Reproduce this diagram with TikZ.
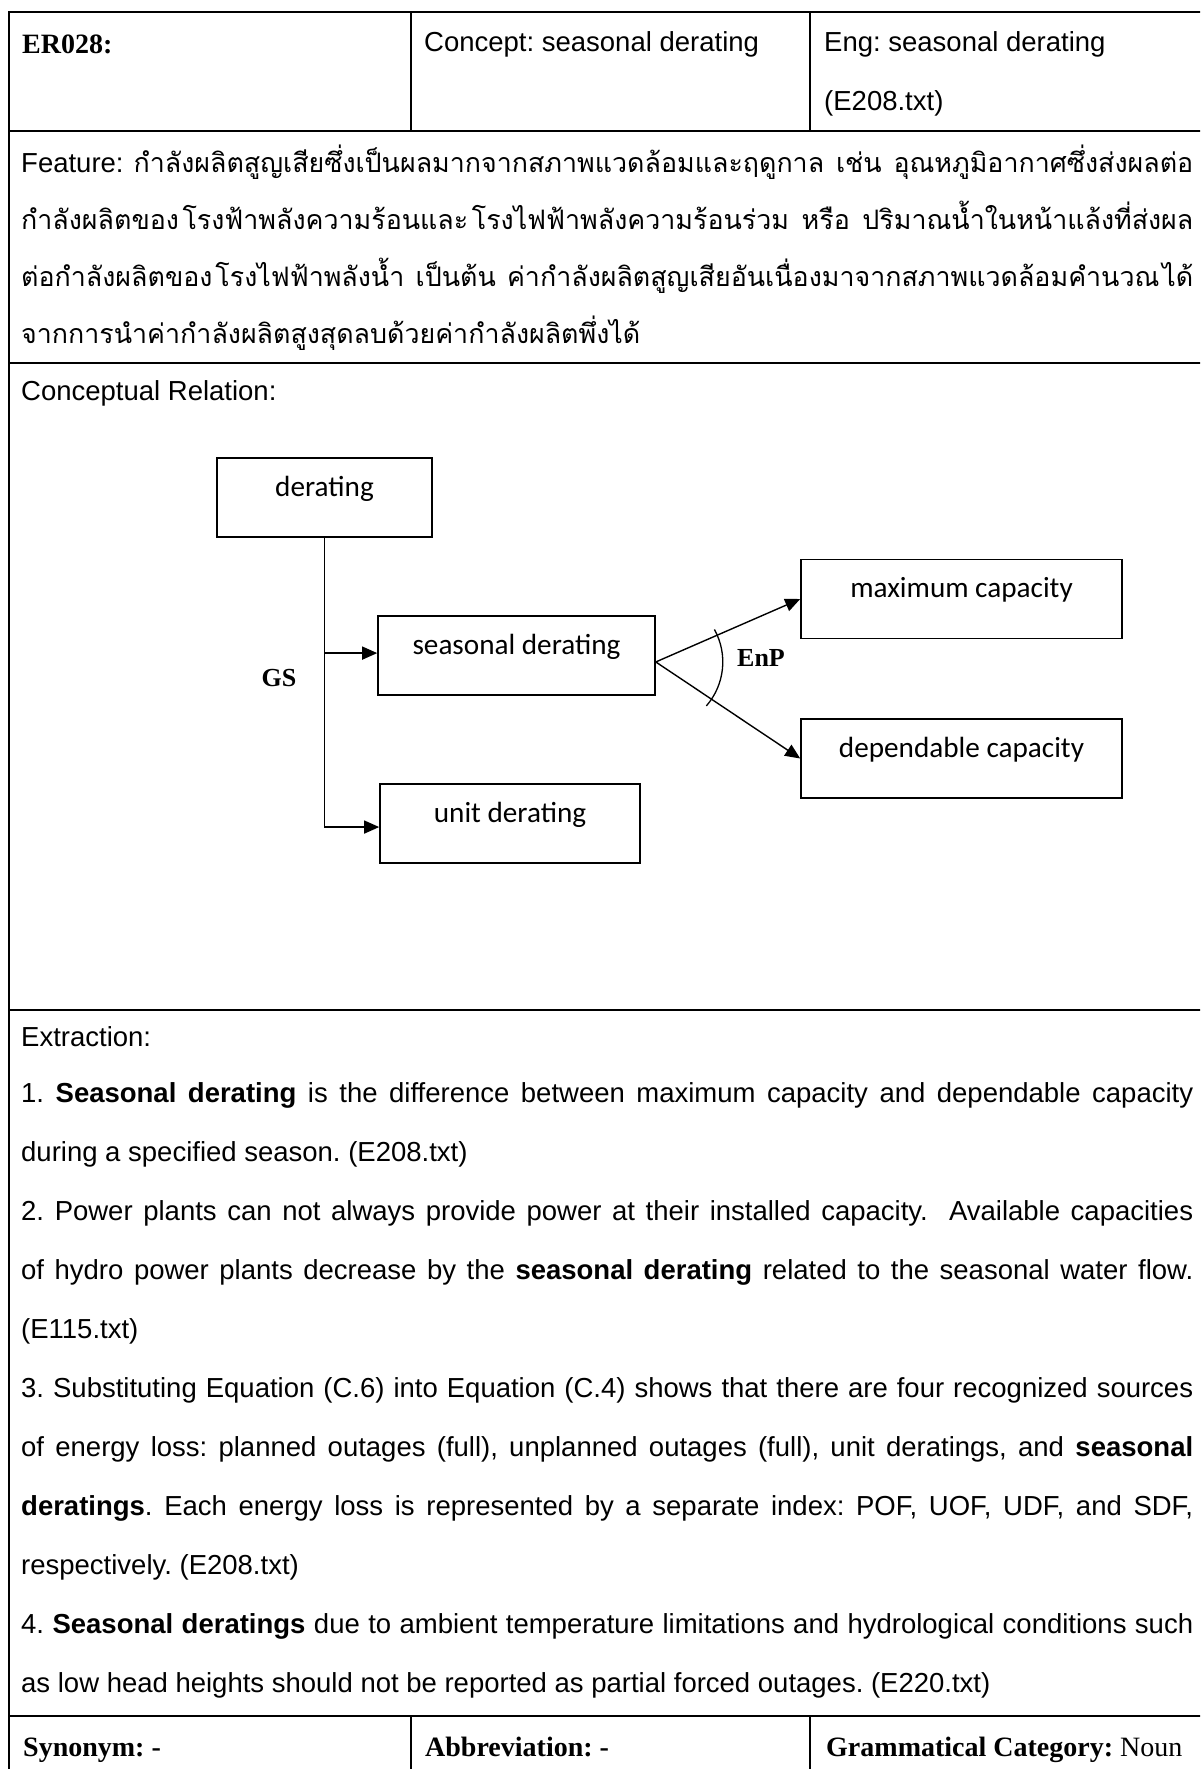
\documentclass[tikz,border=0pt]{standalone}
\usepackage{fontspec}
\setmainfont{Liberation Sans}
\newfontfamily\thaifont[Script=Thai]{Loma}
\newfontfamily\serifbf{Liberation Serif}
\newfontfamily\boxfont{Carlito}
\usetikzlibrary{arrows.meta,calc}
\frenchspacing
\newcommand\fsz[1]{\fontsize{#1}{#1}\selectfont}
% one justified line of the table text
\newcommand\jline[1]{\makebox[1172pt][s]{#1}}
\newcommand\thaitxt{\thaifont\fsz{26.8}}
\newcommand\tgap{\hspace{2pt plus 2pt}}
\tikzset{
  rule/.style={line width=1.8pt},
  txt/.style={anchor=base west, inner sep=0pt, font=\fsz{27.5}},
  thai/.style={anchor=base west, inner sep=0pt, font=\fsz{27.5}},
  serb/.style={anchor=base west, inner sep=0pt, font=\serifbf\bfseries\fsz{28}},
  rel/.style={inner sep=0pt, font=\serifbf\bfseries\fsz{26}},
  cbox/.style={draw, line width=1.6pt, inner sep=0pt, text height=38pt, text depth=41pt, font=\boxfont\fsz{29.2}},
  arr/.style={line width=1.4pt, -{Triangle[length=15pt,width=13pt]}},
}
\begin{document}
\begin{tikzpicture}[x=1pt,y=-1pt]
\useasboundingbox (0,0) rectangle (1200,1769);
\clip (0,0) rectangle (1200,1769);

% table frame
\draw[rule] (1210,12) -- (9,12) -- (9,1780);
\foreach \yy in {131,363,1010,1716} \draw[rule] (9,\yy) -- (1210,\yy);
\draw[rule] (411,12) -- (411,131);
\draw[rule] (810,12) -- (810,131);
\draw[rule] (411,1716) -- (411,1780);
\draw[rule] (810,1716) -- (810,1780);

% header row
\node[serb] (id) at (22,54) {ER028:};
\node[txt] (concept) at (424,52) {Concept: seasonal derating};
\node[txt] (eng) at (824,52) {Eng: seasonal derating};
\node[txt] (engsrc) at (824,110) {(E208.txt)};

% feature
\node[thai] (f1) at (21,172) {\jline{Feature: {\thaitxt กำลังผลิตสูญเสียซึ่งเป็นผลมากจากสภาพแวดล้อมและฤดูกาล เช่น อุณหภูมิอากาศซึ่งส่งผลต่อ}}};
\node[thai] (f2) at (21,229) {\jline{\thaitxt กำลังผลิตของ\tgap โรงฟ้าพลังความร้อนและ\tgap โรงไฟฟ้าพลังความร้อนร่วม หรือ ปริมาณน้ำในหน้าแล้งที่ส่งผล}};
\node[thai] (f3) at (21,286) {\jline{\thaitxt ต่อกำลังผลิตของ\tgap โรงไฟฟ้าพลังน้ำ เป็นต้น ค่ากำลังผลิตสูญเสียอันเนื่องมาจากสภาพแวดล้อมคำนวณ\tgap ได้}};
\node[thai] (f4) at (21,343) {\thaitxt จากการนำค่ากำลังผลิตสูงสุดลบด้วยค่ากำลังผลิตพึ่งได้};

% conceptual relation
\node[txt] (crel) at (21,400) {Conceptual Relation:};

\node[cbox, minimum width=215pt] (der) at (324.5,497.5) {derating};
\node[cbox, minimum width=277pt] (sea) at (516.5,655.5) {seasonal derating};
\node[cbox, minimum width=260pt] (unit) at (510,823.5) {unit derating};
\node[cbox, minimum width=321pt] (max) at (961.5,599) {maximum capacity};
\node[cbox, minimum width=321pt] (dep) at (961.5,758.5) {dependable capacity};

\coordinate (gsA) at ($(sea.north west)!0.47!(sea.south west)$);
\coordinate (gsB) at ($(unit.north west)!0.544!(unit.south west)$);
\draw[arr] (der.south) |- (gsB);
\draw[arr] (der.south |- gsA) -- (gsA);
\node[rel] (gs) at (279,678) {GS};

\coordinate (o) at ($(sea.north east)!0.58!(sea.south east)$);
\draw[arr] (o) -- (max.west);
\draw[arr] (o) -- (dep.west);
\draw[line width=1.3pt] ([shift={(-29:67)}]o) arc[start angle=-29, end angle=41, radius=67];
\node[rel] (enp) at (761,658) {EnP};

% extraction
\node[txt] (ext) at (21,1046) {Extraction:};
\node[txt] (e1) at (21,1102) {\jline{1. {\bfseries Seasonal derating} is the difference between maximum capacity and dependable capacity}};
\node[txt] (e2) at (21,1161) {during a specified season. (E208.txt)};
\node[txt] (e3) at (21,1220) {\jline{2. Power plants can not always provide power at their installed capacity.\ \ Available capacities}};
\node[txt] (e4) at (21,1279) {\jline{of hydro power plants decrease by the {\bfseries seasonal derating} related to the seasonal water flow.}};
\node[txt] (e5) at (21,1338) {(E115.txt)};
\node[txt] (e6) at (21,1397) {\jline{3. Substituting Equation (C.6) into Equation (C.4) shows that there are four recognized sources}};
\node[txt] (e7) at (21,1456) {\jline{of energy loss: planned outages (full), unplanned outages (full), unit deratings, and {\bfseries seasonal}}};
\node[txt] (e8) at (21,1515) {\jline{{\bfseries deratings}. Each energy loss is represented by a separate index: POF, UOF, UDF, and SDF,}};
\node[txt] (e9) at (21,1574) {respectively. (E208.txt)};
\node[txt] (e10) at (21,1633) {\jline{4. {\bfseries Seasonal deratings} due to ambient temperature limitations and hydrological conditions such}};
\node[txt] (e11) at (21,1692) {as low head heights should not be reported as partial forced outages. (E220.txt)};

% bottom row
\node[serb] (syn) at (23,1756) {Synonym: -};
\node[serb] (abbr) at (425,1756) {Abbreviation: -};
\node[serb] (gram) at (826,1756) {Grammatical Category: {\mdseries Noun}};
\end{tikzpicture}
\end{document}
